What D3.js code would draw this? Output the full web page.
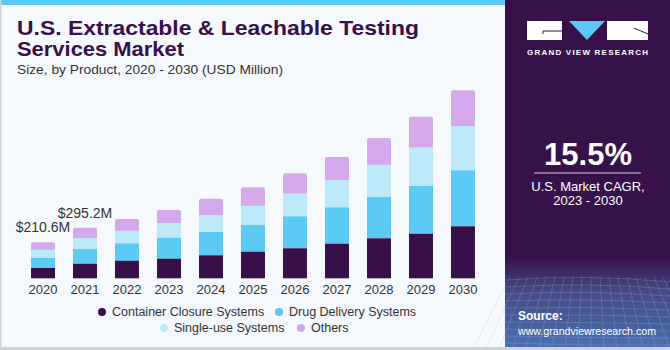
<!DOCTYPE html>
<html>
<head>
<meta charset="utf-8">
<script src="https://cdn.jsdelivr.net/npm/d3@7"></script>
<style>
  body { margin: 0; background: #fff; }
  svg { display: block; font-family: "Liberation Sans", Arial, sans-serif; }
</style>
</head>
<body>
<div id="chart"></div>
<script>
// chart data (USD Million)
const years = ["2020", "2021", "2022", "2023", "2024", "2025", "2026", "2027", "2028", "2029", "2030"];
const segments = ["Container Closure Systems", "Drug Delivery Systems", "Single-use Systems", "Others"];
const containerClosure = [60.3, 85.2, 103.0, 114.7, 134.6, 155.6, 175.5, 202.4, 234.0, 260.9, 304.2];
const drugDelivery = [58.4, 85.8, 101.8, 122.9, 136.3, 156.2, 187.2, 212.9, 241.6, 279.0, 327.6];
const singleUse = [48.6, 64.2, 73.7, 86.0, 99.5, 112.9, 134.6, 159.7, 189.0, 226.4, 259.2];
const others = [43.3, 60.0, 68.4, 76.1, 95.4, 107.6, 117.0, 134.6, 156.2, 179.0, 208.8];
const labelYears = ["2020", "2021"];
const labelTexts = ["$210.6M", "$295.2M"];
const cagr = "15.5%";

const colors = ["#37104a", "#5bcaf5", "#bde9f9", "#d4a9ec"];
const W = 670, H = 350;

const svg = d3.select("#chart").append("svg")
    .attr("width", W).attr("height", H);

// backgrounds
svg.append("rect").attr("width", W).attr("height", H).attr("fill", "#f5f9fd");
svg.append("rect").attr("x", 0).attr("y", 0).attr("width", 505).attr("height", 5).attr("fill", "#5bc8f3");
svg.append("rect").attr("x", 0).attr("y", 0).attr("width", 1.5).attr("height", H).attr("fill", "#cfd3d6");
svg.append("rect").attr("x", 0).attr("y", 347).attr("width", W).attr("height", 3).attr("fill", "#cfd3d6");

// title
const title = svg.append("g").attr("fill", "#37104a")
    .style("font-family", "'Liberation Sans', Arial, sans-serif").style("font-weight", "bold");
title.append("text").attr("x", 17).attr("y", 35).style("font-size", "21px")
    .attr("textLength", 402).attr("lengthAdjust", "spacingAndGlyphs")
    .text("U.S. Extractable & Leachable Testing");
title.append("text").attr("x", 17).attr("y", 56).style("font-size", "21px")
    .attr("textLength", 167).attr("lengthAdjust", "spacingAndGlyphs")
    .text("Services Market");
svg.append("text").attr("x", 17).attr("y", 74).attr("fill", "#333")
    .style("font-size", "13.5px")
    .attr("textLength", 266).attr("lengthAdjust", "spacingAndGlyphs")
    .text("Size, by Product, 2020 - 2030 (USD Million)");

// scales
const x = d3.scaleBand().domain(years).range([22, 484])
    .paddingInner(18 / 42).paddingOuter(9 / 42);
const y = d3.scaleLinear().domain([0, 1100]).range([278.3, 90.3]);

const rows = years.map((yr, i) => ({
    year: yr,
    vals: [containerClosure[i], drugDelivery[i], singleUse[i], others[i]]
}));
const stack = d3.stack().keys([0, 1, 2, 3]).value((d, k) => d.vals[k]);
const series = stack(rows);

const plot = svg.append("g");
// draw top segment first (extended down) so its rounded bottom is hidden
series.slice().reverse().forEach(s => {
    const k = s.key;
    plot.append("g").selectAll("rect").data(s).join("rect")
        .attr("x", d => x(d.data.year))
        .attr("width", x.bandwidth())
        .attr("y", d => y(d[1]))
        .attr("height", d => y(d[0]) - y(d[1]) + (k === 3 ? 3 : 0))
        .attr("rx", k === 3 ? 2 : 0)
        .attr("fill", colors[k]);
});

// x axis
const xAxis = svg.append("g").attr("transform", "translate(0,278.3)")
    .call(d3.axisBottom(x).tickSize(0).tickPadding(6));
xAxis.select(".domain").remove();
xAxis.selectAll("text").attr("fill", "#333")
    .style("font-size", "13px").style("font-family", "'Liberation Sans', Arial, sans-serif");

// value labels
labelYears.forEach((yr, i) => {
    const idx = years.indexOf(yr);
    const total = containerClosure[idx] + drugDelivery[idx] + singleUse[idx] + others[idx];
    svg.append("text")
        .attr("x", x(yr) + x.bandwidth() / 2)
        .attr("y", y(total) - 10)
        .attr("text-anchor", "middle")
        .attr("fill", "#333").style("font-size", "14px")
        .text(labelTexts[i]);
});

// legend
const legendPos = [[102, 316], [279, 316], [164, 332], [301, 332]];
const legend = svg.append("g");
segments.forEach((name, i) => {
    const [lx, ly] = legendPos[i];
    legend.append("circle").attr("cx", lx).attr("cy", ly - 4).attr("r", 4).attr("fill", colors[i]);
    legend.append("text").attr("x", lx + 10).attr("y", ly).attr("fill", "#333")
        .style("font-size", "12.5px").text(name);
});

// right panel
const defs = svg.append("defs");
const grad = defs.append("linearGradient").attr("id", "pgrad").attr("x1", 0).attr("y1", 0).attr("x2", 0).attr("y2", 1);
grad.append("stop").attr("offset", "0").attr("stop-color", "#37114a");
grad.append("stop").attr("offset", "0.74").attr("stop-color", "#37114a");
grad.append("stop").attr("offset", "0.84").attr("stop-color", "#454a86");
grad.append("stop").attr("offset", "1").attr("stop-color", "#4a6fae");
svg.append("rect").attr("x", 505).attr("y", 0).attr("width", 165).attr("height", 347).attr("fill", "url(#pgrad)");

// faint grid in panel bottom
const grid = svg.append("g").attr("stroke", "#9fb6e0").attr("stroke-opacity", 0.25).attr("fill", "none");
d3.range(280, 347, 7).forEach((gy, i) => {
    grid.append("path").attr("d", `M505,${gy} Q588,${gy - 6 + i} 670,${gy + 2}`);
});
d3.range(510, 670, 9).forEach((gx, i) => {
    grid.append("path").attr("d", `M${gx},277 Q${gx + (i - 9) * 2},310 ${gx + (i - 9) * 4},347`);
});

// logo
const logo = svg.append("g");
logo.append("rect").attr("x", 527).attr("y", 21).attr("width", 35).attr("height", 19).attr("fill", "#fff");
logo.append("path").attr("d", "M569,21 L605,21 L587,40 Z").attr("fill", "#5bc8f3");
logo.append("rect").attr("x", 607).attr("y", 21).attr("width", 41).attr("height", 19).attr("fill", "#fff");
logo.append("path").attr("d", "M543,34 L543,31 L562,31").attr("stroke", "#37114a").attr("stroke-width", 1).attr("fill", "none");
logo.append("path").attr("d", "M634,28 L648,34").attr("stroke", "#37114a").attr("stroke-width", 1).attr("fill", "none");
logo.append("text").attr("x", 587.5).attr("y", 55).attr("text-anchor", "middle")
    .attr("fill", "#fff").style("font-size", "8px").style("font-weight", "bold")
    .attr("textLength", 121).attr("lengthAdjust", "spacing")
    .text("GRAND VIEW RESEARCH");

// CAGR
svg.append("text").attr("x", 588).attr("y", 165).attr("text-anchor", "middle")
    .attr("fill", "#fff").style("font-size", "31px").style("font-weight", "bold")
    .text(cagr);
svg.append("line").attr("x1", 534).attr("x2", 641).attr("y1", 173).attr("y2", 173)
    .attr("stroke", "#d8d0de").attr("stroke-width", 1);
svg.append("text").attr("x", 588).attr("y", 191).attr("text-anchor", "middle")
    .attr("fill", "#fff").style("font-size", "13px").text("U.S. Market CAGR,");
svg.append("text").attr("x", 588).attr("y", 205).attr("text-anchor", "middle")
    .attr("fill", "#fff").style("font-size", "13px").text("2023 - 2030");

// source
svg.append("text").attr("x", 518).attr("y", 320).attr("fill", "#fff")
    .style("font-size", "12px").style("font-weight", "bold").text("Source:");
svg.append("text").attr("x", 518).attr("y", 335).attr("fill", "#fff")
    .style("font-size", "11.5px")
    .attr("textLength", 138).attr("lengthAdjust", "spacingAndGlyphs")
    .text("www.grandviewresearch.com");
</script>
</body>
</html>
